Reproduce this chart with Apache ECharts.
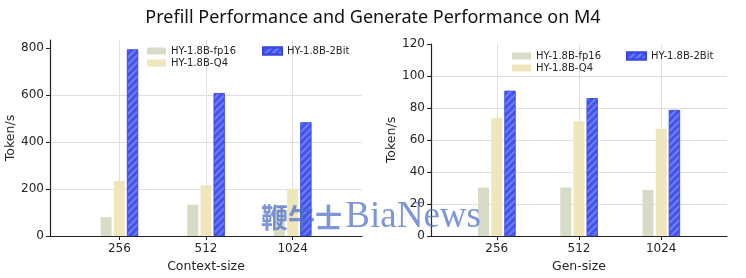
<!DOCTYPE html>
<html>
<head>
<meta charset="utf-8">
<script src="https://cdn.jsdelivr.net/npm/echarts@6/dist/echarts.min.js"></script>
<style>html,body{margin:0;padding:0;background:#fff}#c{width:746px;height:278px}</style>
</head>
<body>
<div id="c"></div>
<script>
const title = 'Prefill Performance and Generate Performance on M4';
const categories = ['256', '512', '1024'];
const seriesNames = ['HY-1.8B-fp16', 'HY-1.8B-Q4', 'HY-1.8B-2Bit'];
// Prefill (Context-size)
const prefillFp16 = [80, 133, 125];
const prefillQ4 = [234, 215, 199];
const prefill2Bit = [793, 607, 483];
// Generate (Gen-size)
const genFp16 = [30.3, 30.3, 28.8];
const genQ4 = [73.8, 71.7, 67];
const gen2Bit = [90.7, 86.1, 78.7];
const prefillTicks = [0, 200, 400, 600, 800];
const genTicks = [0, 20, 40, 60, 80, 100, 120];

const colors = ['#d6dcc6', '#efe6bc', '#4253ee'];
const textColor = '#262626';
const tickFont = 'DejaVu Sans';

const chart = echarts.init(document.getElementById('c'), null, {renderer: 'canvas'});

function pts(arr) { return arr.map((v, i) => [i, v]); }

function xAxis(gridIndex, name) {
  return {
    type: 'value', gridIndex, min: -0.8, max: 2.8,
    name, nameLocation: 'middle', nameGap: 24,
    nameTextStyle: {color: textColor, fontFamily: tickFont, fontSize: 12.5},
    axisLine: {show: true, onZero: false, lineStyle: {color: '#222', width: 1.2}},
    axisTick: {show: true, length: 4, customValues: [0, 1, 2], lineStyle: {color: '#222'}},
    axisLabel: {customValues: [0, 1, 2], margin: 7, color: textColor, fontFamily: tickFont, fontSize: 12,
      formatter: v => categories[Math.round(v)] || ''},
    splitLine: {show: true, lineStyle: {color: '#e0e0e0', width: 1}}
  };
}
function yAxis(gridIndex, max, ticks) {
  return {
    type: 'value', gridIndex, min: 0, max,
    name: 'Token/s', nameLocation: 'middle', nameGap: 33,
    nameTextStyle: {color: textColor, fontFamily: tickFont, fontSize: 12.5},
    axisLine: {show: true, onZero: false, lineStyle: {color: '#222', width: 1.2}},
    axisTick: {show: true, length: 4, customValues: ticks, lineStyle: {color: '#222'}},
    axisLabel: {customValues: ticks, margin: 6, color: textColor, fontFamily: tickFont, fontSize: 12},
    splitLine: {show: true, showMaxLine: false, lineStyle: {color: '#e0e0e0', width: 1}}
  };
}
const hatch = {symbol: 'rect', color: 'rgba(150,160,255,0.55)', dashArrayX: [1, 0], dashArrayY: [1.5, 2.5], rotation: -Math.PI / 4, symbolSize: 1};

function bars(idx, vals, name, i) {
  const s = {
    type: 'bar', name, xAxisIndex: idx, yAxisIndex: idx, data: pts(vals),
    barWidth: 11, barGap: '20%',
    itemStyle: {color: colors[i]}, emphasis: {disabled: true}
  };
  if (i === 2) { s.itemStyle.decal = hatch; s.itemStyle.borderColor = '#3646e0'; s.itemStyle.borderWidth = 0.6; }
  return s;
}

function legend(left, top, data) {
  return {
    data, left, top, orient: 'vertical', icon: 'rect', itemWidth: 19, itemHeight: 7, itemGap: 2, padding: 0,
    textStyle: {color: textColor, fontFamily: tickFont, fontSize: 10}, selectedMode: false
  };
}

chart.setOption({
  animation: false,
  title: {text: title, left: 'center', top: 4,
    textStyle: {fontFamily: 'Noto Sans', fontWeight: 'normal', fontSize: 18, color: '#111'}},
  grid: [
    {left: 50, right: 384, top: 40, bottom: 40},
    {left: 431, right: 19, top: 44, bottom: 40}
  ],
  xAxis: [xAxis(0, 'Context-size'), xAxis(1, 'Gen-size')],
  yAxis: [yAxis(0, 833, prefillTicks), yAxis(1, 120, genTicks)],
  legend: [
    legend(147, 46, [seriesNames[0], seriesNames[1]]),
    legend(262, 46, [seriesNames[2]]),
    legend(512, 51, [seriesNames[0], seriesNames[1]]),
    legend(626, 51, [seriesNames[2]])
  ],
  series: [
    bars(0, prefillFp16, seriesNames[0], 0),
    bars(0, prefillQ4, seriesNames[1], 1),
    bars(0, prefill2Bit, seriesNames[2], 2),
    bars(1, genFp16, seriesNames[0], 0),
    bars(1, genQ4, seriesNames[1], 1),
    bars(1, gen2Bit, seriesNames[2], 2)
  ],
  graphic: [{
    type: 'text', left: 261, top: 199, z: 100,
    style: {
      text: '{c|鞭牛士} {l|BiaNews}',
      rich: {
        c: {fontFamily: 'Noto Sans CJK SC', fontWeight: 'bold', fontSize: 27, fill: 'rgba(75,110,205,0.72)'},
        l: {fontFamily: 'Liberation Serif', fontSize: 37, fill: 'rgba(75,110,205,0.72)'}
      }
    }
  }]
});
</script>
</body>
</html>
